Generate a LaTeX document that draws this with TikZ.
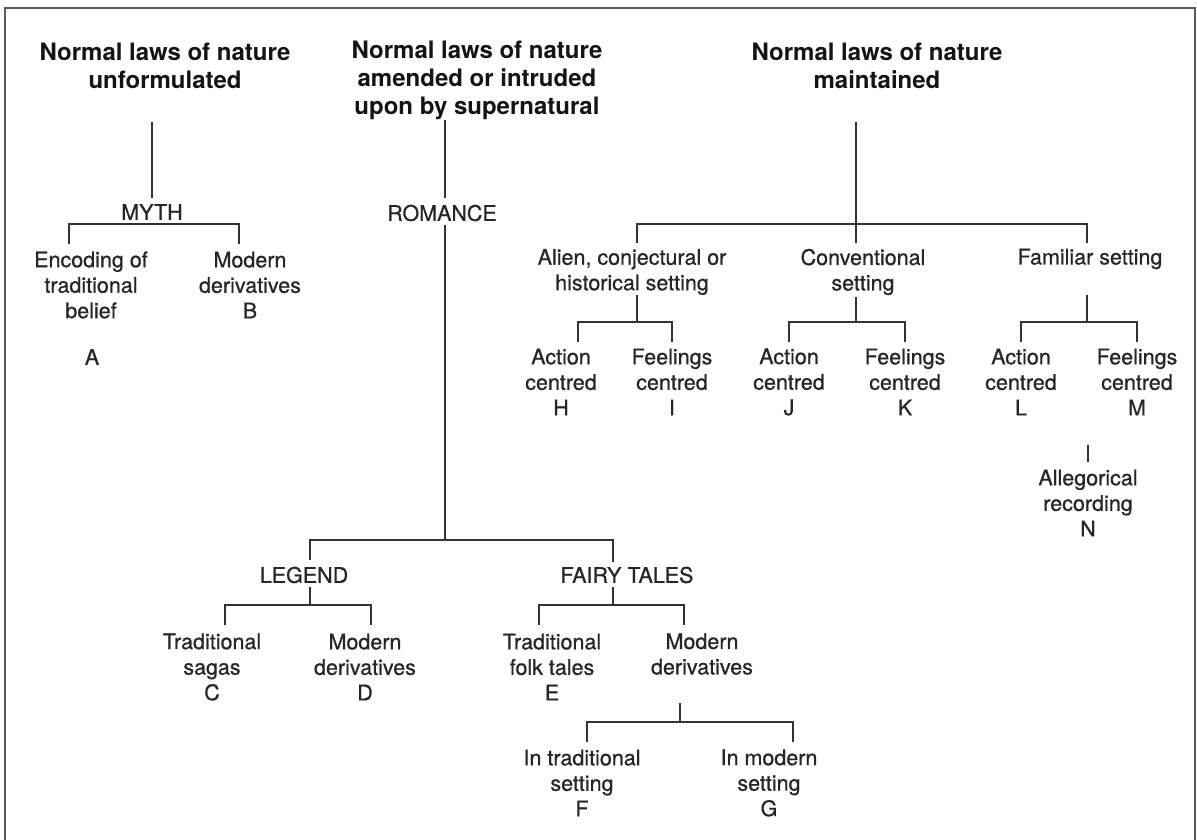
\documentclass[tikz,border=0pt]{standalone}
\usepackage{fontspec}
\setmainfont{TeX Gyre Heros}
\newfontfamily\medfont[FakeBold=0.7]{TeX Gyre Heros}
\begin{document}
\begin{tikzpicture}[x=1pt,y=-1pt,
  title/.style={font=\bfseries\fontsize{24}{28}\selectfont, align=center, inner sep=0pt, text=black!92},
  lbl/.style={font=\medfont\fontsize{21.5}{25.5}\selectfont, align=center, inner sep=0pt, text=black!85},
  conn/.style={draw=black!80, line width=1.5pt},
  frame/.style={draw=black!65, line width=2pt}]
\useasboundingbox (0,0) rectangle (1197,840);
\fill[white] (0,0) rectangle (1197,840);
\draw[frame] (5,840) -- (5,8) -- (1195,8) -- (1195,840);

% top-level headings
\node[title] (t1) at (165,66) {Normal laws of nature\\unformulated};
\node[title] (t2) at (477,80) {Normal laws of nature\\amended or intruded\\upon by supernatural};
\node[title] (t3) at (877,66) {Normal laws of nature\\maintained};

% myth branch
\node[lbl] (myth) at (152,212) {MYTH};
\node[lbl] (enc) at (91,285) {Encoding of\\traditional\\belief};
\node[lbl] (A) at (92,357) {A};
\node[lbl] (modB) at (250,285) {Modern\\derivatives\\B};

% romance branch
\node[lbl] (romance) at (442,213) {ROMANCE};
\node[lbl] (legend) at (304,575) {LEGEND};
\node[lbl] (fairy) at (627,575) {FAIRY TALES};
\node[lbl] (C) at (212,667) {Traditional\\sagas\\C};
\node[lbl] (D) at (365,667) {Modern\\derivatives\\D};
\node[lbl] (E) at (552,667) {Traditional\\folk tales\\E};
\node[lbl] (ftmod) at (702,654) {Modern\\derivatives};
\node[lbl] (F) at (582,783) {In traditional\\setting\\F};
\node[lbl] (G) at (769,783) {In modern\\setting\\G};

% maintained branch
\node[lbl] (alien) at (632,272) {Alien, conjectural or\\historical setting};
\node[lbl] (conv) at (863,272) {Conventional\\setting};
\node[lbl] (fam) at (1090,259) {Familiar setting};
\node[lbl] (H) at (561,382) {Action\\centred\\H};
\node[lbl] (I) at (672,382) {Feelings\\centred\\I};
\node[lbl] (J) at (789,382) {Action\\centred\\J};
\node[lbl] (K) at (905,382) {Feelings\\centred\\K};
\node[lbl] (L) at (1021,382) {Action\\centred\\L};
\node[lbl] (M) at (1137,382) {Feelings\\centred\\M};
\node[lbl] (N) at (1088,503) {Allegorical\\recording\\N};

% connector end points
\coordinate (t1a) at (152,122);   \coordinate (t1b) at (152,198);
\coordinate (myL) at (69,244);    \coordinate (myR) at (239,244);
\coordinate (rmTop) at (445,120); \coordinate (rmA) at (445,198);
\coordinate (rmB) at (445,225);   \coordinate (rmBot) at (445,540);
\coordinate (lgL) at (310,560);   \coordinate (lgR) at (613,562);
\coordinate (lgS) at (310,587);   \coordinate (lgJ) at (310,605);
\coordinate (cL) at (225,625);    \coordinate (dR) at (371,625);
\coordinate (ftS) at (613,587);   \coordinate (ftJ) at (613,605);
\coordinate (eL) at (539,625);    \coordinate (mR) at (684,625);
\coordinate (fmS) at (680,703);   \coordinate (fmJ) at (680,722);
\coordinate (fL) at (587,742);    \coordinate (gR) at (793,742);
\coordinate (t3a) at (856,122);   \coordinate (t3J) at (856,224);
\coordinate (alL) at (637,243);   \coordinate (cvB) at (856,243);
\coordinate (faR) at (1087,243);
\coordinate (alS) at (637,295);   \coordinate (alJ) at (637,322);
\coordinate (hL) at (578,342);    \coordinate (iR) at (672,342);
\coordinate (cvS) at (856,297);   \coordinate (cvJ) at (856,322);
\coordinate (jL) at (789,342);    \coordinate (kR) at (905,342);
\coordinate (faS) at (1087,295);  \coordinate (faJ) at (1087,322);
\coordinate (lL) at (1021,342);   \coordinate (mmR) at (1137,342);
\coordinate (nA) at (1088,445);   \coordinate (nB) at (1088,462);

% myth
\draw[conn] (t1a) -- (t1b);
\draw[conn] (myL) -- ++(0,-20) -| (myR);

% romance
\draw[conn] (rmTop) -- (rmA);
\draw[conn] (rmB) -- (rmBot);
\draw[conn] (lgL) -- (310,540) -- (613,540) -- (lgR);
\draw[conn] (lgS) -- (lgJ);
\draw[conn] (cL) -- ++(0,-20) -| (dR);
\draw[conn] (ftS) -- (ftJ);
\draw[conn] (eL) -- ++(0,-20) -| (mR);
\draw[conn] (fmS) -- (fmJ);
\draw[conn] (fL) -- ++(0,-20) -| (gR);

% maintained
\draw[conn] (t3a) -- (cvB);
\draw[conn] (alL) -- ++(0,-19) -| (faR);
\draw[conn] (alS) -- (alJ);
\draw[conn] (hL) -- ++(0,-20) -| (iR);
\draw[conn] (cvS) -- (cvJ);
\draw[conn] (jL) -- ++(0,-20) -| (kR);
\draw[conn] (faS) -- (faJ);
\draw[conn] (lL) -- ++(0,-20) -| (mmR);
\draw[conn] (nA) -- (nB);
\end{tikzpicture}
\end{document}
